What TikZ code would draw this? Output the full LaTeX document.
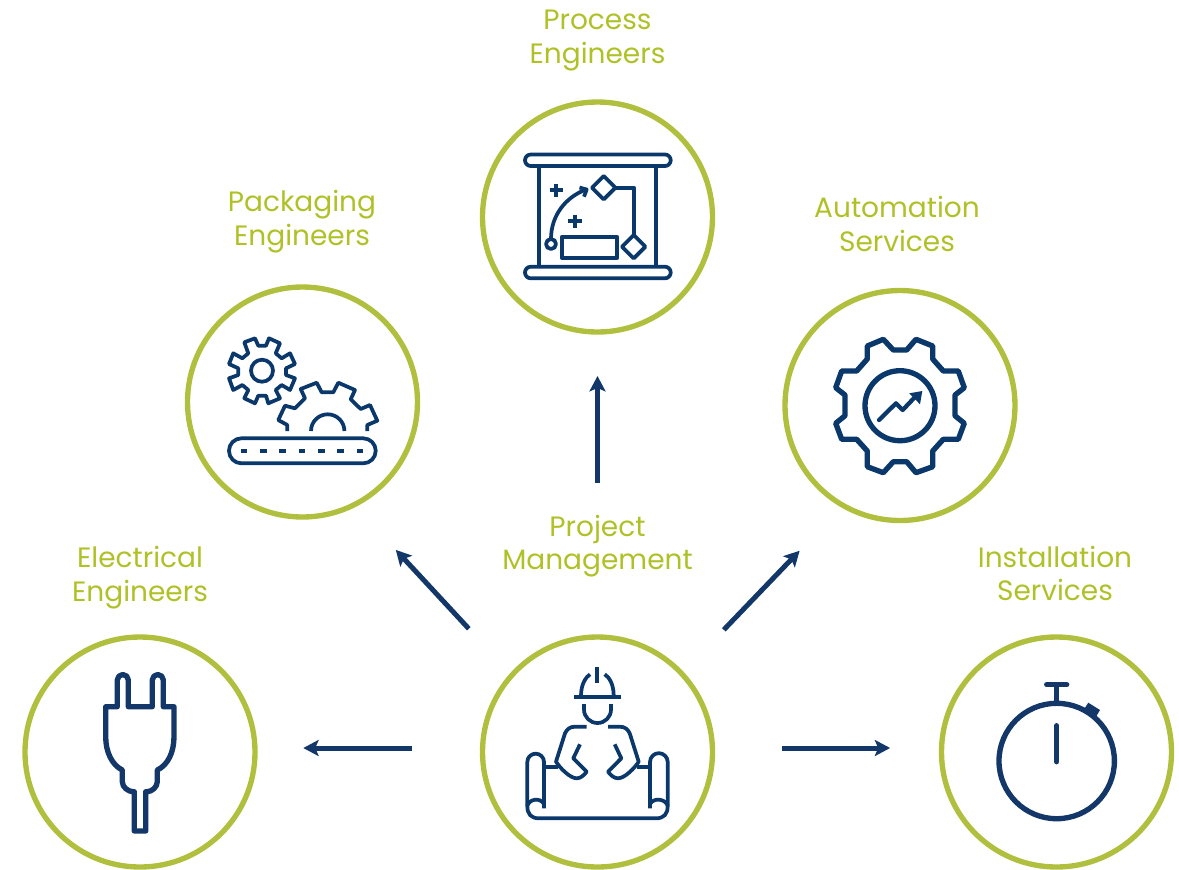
\documentclass[tikz,border=0pt]{standalone}
\usepackage{fontspec}
\setmainfont{Poppins}
\usepackage{tikz}
\usetikzlibrary{arrows.meta}
\definecolor{ringgreen}{RGB}{176,192,62}
\definecolor{textgreen}{RGB}{176,193,40}
\definecolor{iconblue}{RGB}{10,56,107}
\definecolor{plugblue}{RGB}{20,55,105}
\tikzset{
  ring/.style={circle,draw=ringgreen,line width=4pt,minimum size=172.5pt,inner sep=0pt},
  caption/.style={align=center,text=textgreen,font=\fontsize{21}{25}\selectfont,inner sep=0pt},
  flow/.style={draw=plugblue,line width=3.75pt,-{Stealth[length=11.5pt,width=12pt,inset=2.5pt]}},
  thinicon/.style={draw=iconblue,line width=2.8pt,line join=round},
  thickicon/.style={draw=iconblue,line width=4pt,line join=round,line cap=round},
  plugicon/.style={draw=plugblue,line width=4pt,line join=round,line cap=round},
}

\begin{document}
\begin{tikzpicture}[x=0.75pt,y=0.75pt,yscale=-1,xscale=1]

    \useasboundingbox (0,0) rectangle (1179,869);

    %Circles
    \node[ring] (process) at (597.5,217) {};
    \node[ring] (packaging) at (302.5,402) {};
    \node[ring] (automation) at (900,405.5) {};
    \node[ring] (project) at (597.5,752) {};
    \node[ring] (electrical) at (140,752) {};
    \node[ring] (installation) at (1056.5,752) {};

    %Labels
    \node[caption] (processlabel) at (597.5,40.5) {Process\\Engineers};
    \node[caption] (packaginglabel) at (302,221.5) {Packaging\\Engineers};
    \node[caption] (automationlabel) at (897,224) {Automation\\Services};
    \node[caption] (electricallabel) at (140,577.5) {Electrical\\Engineers};
    \node[caption] (projectlabel) at (597.5,546) {Project\\Management};
    \node[caption] (installationlabel) at (1055,573.5) {Installation\\Services};

    %Arrows
    \draw[flow,shorten <=113.6pt,shorten >=31pt] (project.north) -- (process.south);
    \draw[flow,shorten <=51pt,shorten >=34.2pt] ([yshift=-3pt]project.west) -- ([yshift=-3pt]electrical.east);
    \draw[flow,shorten <=50pt,shorten >=36.5pt] ([yshift=-3pt]project.east) -- ([yshift=-3pt]installation.west);
    \draw[flow,shorten <=45.5pt,shorten >=44pt] (project.138) -- (packaging.-63);
    \draw[flow,shorten <=43.6pt,shorten >=45pt] (project.43) -- (automation.240);

    %Shape: Process chart
    \draw[thinicon,rounded corners=4.3pt] (525,154.5) rectangle (670.7,166);
    \draw[thinicon,rounded corners=4.3pt] (525,266.7) rectangle (670.7,278.3);
    \draw[thinicon] (539.3,166) -- (539.3,266.7);
    \draw[thinicon] (656,166) -- (656,266.7);
    \draw[thinicon] (603.7,176) -- (615.4,187.7) -- (603.7,199.4) -- (592,187.7) -- cycle;
    \draw[thinicon] (633.7,235) -- (645.4,246.7) -- (633.7,258.4) -- (622,246.7) -- cycle;
    \draw[thinicon] (615.4,187.7) -- (634.3,187.7) -- (634.3,235);
    \draw[thinicon] (561.7,236.7) rectangle (617.3,257.7);
    \draw[thinicon] (551,244) circle (5);
    \draw[thinicon] (551,239) .. controls (551,215) and (566,197) .. (586,189.5);
    \draw[thinicon] (579.5,187.5) -- (586.7,189.5) -- (584,196.7);
    \draw[thinicon] (549.6,190.3) -- (563,190.3);
    \draw[thinicon] (556.3,183.6) -- (556.3,197);
    \draw[thinicon] (568.3,221.3) -- (581.7,221.3);
    \draw[thinicon] (575,214.6) -- (575,228);

    %Shape: Conveyor gears
    \draw[thinicon] (244.3,342.3) -- (255,338.3) -- (258.3,345.7) -- (266,345.7) -- (269,338.3) -- (280,343.3) -- (275.7,353.3) -- (281.7,358.3) -- (290,353.3) -- (295,364) -- (286,368.3) -- (286,375) -- (295,378.3) -- (290,390) -- (281.7,385) -- (275.7,390) -- (280,398.3) -- (268.3,403.3) -- (266,395.7) -- (258.3,395.7) -- (255,403.3) -- (244.3,398.3) -- (248.3,390) -- (242.3,385) -- (233.3,390) -- (229,378.3) -- (238.3,375) -- (238.3,368.3) -- (229,364) -- (233.3,353.3) -- (242.3,358.3) -- (248.3,353.3) -- cycle;
    \draw[thinicon] (262,370.7) circle (11);
    \draw[thinicon] (287.3,431) -- (287.3,425) -- (278.3,420) -- (285,405.7) -- (295,408.3) -- (305,398.3) -- (300.7,389) -- (316.7,382.7) -- (321.7,392.3) -- (333.3,392.3) -- (338.3,382.7) -- (355,390) -- (350.7,399.3) -- (360.7,409) -- (370,405) -- (377.3,420.7) -- (367.3,425) -- (367.3,431);
    \draw[thinicon] (311,431) arc (180:360:16.7);
    \draw[thinicon,rounded corners=9.3pt] (229,438.3) rectangle (375.7,463.3);
    \draw[draw=iconblue,line width=2.8pt,dash pattern=on 5pt off 9.5pt] (240.7,450.7) -- (363.3,450.7);

    %Shape: Automation gear
    \draw[thickicon] (867.3,346) -- (883.3,339.3) -- (893.3,350) -- (906.7,350) -- (916,339.3) -- (932.7,346) -- (932.7,359) -- (943.3,371) -- (958.3,371) -- (964.3,387.7) -- (955,395) -- (955,415.7) -- (964.3,423.3) -- (958.3,439.3) -- (943.3,439.3) -- (932.7,451) -- (932.7,466.7) -- (916,472.7) -- (906.7,461.7) -- (893.3,461.7) -- (883.3,472.7) -- (867.3,466.7) -- (867.3,451) -- (856.7,439.3) -- (841.7,439.3) -- (835.7,423.3) -- (845,415.7) -- (845,395) -- (835.7,387.7) -- (841.7,371) -- (856.7,371) -- (867.3,359) -- cycle;
    \draw[thickicon] (900,405.7) circle (35);
    \draw[thickicon,line width=3.2pt] (879,420) -- (896,403.3) -- (902.7,410) -- (915,397);
    \fill[iconblue] (922.3,391) -- (909.3,393.3) -- (920,404.3) -- cycle;

    %Shape: Engineer with plan
    \draw[thinicon] (597.3,667.3) -- (597.3,683.3);
    \draw[thinicon] (581,695.7) .. controls (581,684) and (586,677) .. (590,674.3);
    \draw[thinicon] (613.7,695.7) .. controls (613.7,684) and (609,677) .. (604.7,674.3);
    \draw[draw=iconblue,line width=3.4pt] (574.3,697) -- (620.7,697);
    \draw[thinicon] (584,704) -- (584,709.5) arc (180:0:13.5) -- (611,704);
    \draw[thinicon] (586.7,726.7) -- (575,726.7) .. controls (570,726.7) and (567,729) .. (565,733.3) -- (556,761.7) .. controls (560,768) and (570,778.3) .. (576.7,778.3) .. controls (581,778.3) and (584,775) .. (586.7,771.7) -- (573.3,758.3) -- (580,744.3);
    \draw[thinicon] (608,726.7) -- (619.7,726.7) .. controls (624.7,726.7) and (627.7,729) .. (629.7,733.3) -- (638.7,761.7) .. controls (634.7,768) and (624.7,778.3) .. (618,778.3) .. controls (613.7,778.3) and (610.7,775) .. (608,771.7) -- (621.3,758.3) -- (614.7,744.3);
    \draw[thinicon] (544,808.3) -- (544,762) arc (360:180:8.35) -- (527.3,806) .. controls (527.3,814) and (531,818.3) .. (539,818.3) -- (656,818.3) .. controls (664,818.3) and (667.7,814) .. (667.7,806) -- (667.7,762) arc (360:180:8.85) -- (650,808.3);
    \draw[thinicon] (527.3,806) .. controls (529,799) and (540,797) .. (544,804);
    \draw[thinicon] (667.7,806) .. controls (666,799) and (654,797) .. (650,804);
    \draw[thinicon] (546,766.7) -- (558,766.7);
    \draw[thinicon] (637,766.7) -- (650,766.7);

    %Shape: Plug
    \draw[plugicon] (105.7,706.7) -- (117.3,706.7) -- (117.3,680) arc (180:360:5.5) -- (128.3,706.7) -- (152.3,706.7) -- (152.3,680) arc (180:360:5.5) -- (163.3,706.7) -- (174,706.7) -- (174,736.7) .. controls (174,752) and (168,765) .. (157.3,770) -- (157.3,781.7) .. controls (157.3,787) and (152,791.7) .. (146.7,791.7) -- (145.7,791.7) -- (145.7,831) -- (134.3,831) -- (134.3,791.7) -- (133.3,791.7) .. controls (128,791.7) and (122.3,787) .. (122.3,781.7) -- (122.3,770) .. controls (112,765) and (105.7,752) .. (105.7,736.7) -- cycle;

    %Shape: Stopwatch
    \draw[plugicon] (1056.7,761) circle (57.7);
    \draw[plugicon] (1046.7,684.7) -- (1066.7,684.7);
    \draw[plugicon] (1056.7,684.7) -- (1056.7,701.7);
    \draw[plugicon] (1056.7,725.7) -- (1056.7,761.7);
    \fill[plugblue] (1088.3,702.7) -- (1100,710) -- (1095.7,717.3) -- (1084,709.3) -- cycle;

\end{tikzpicture}
\end{document}
